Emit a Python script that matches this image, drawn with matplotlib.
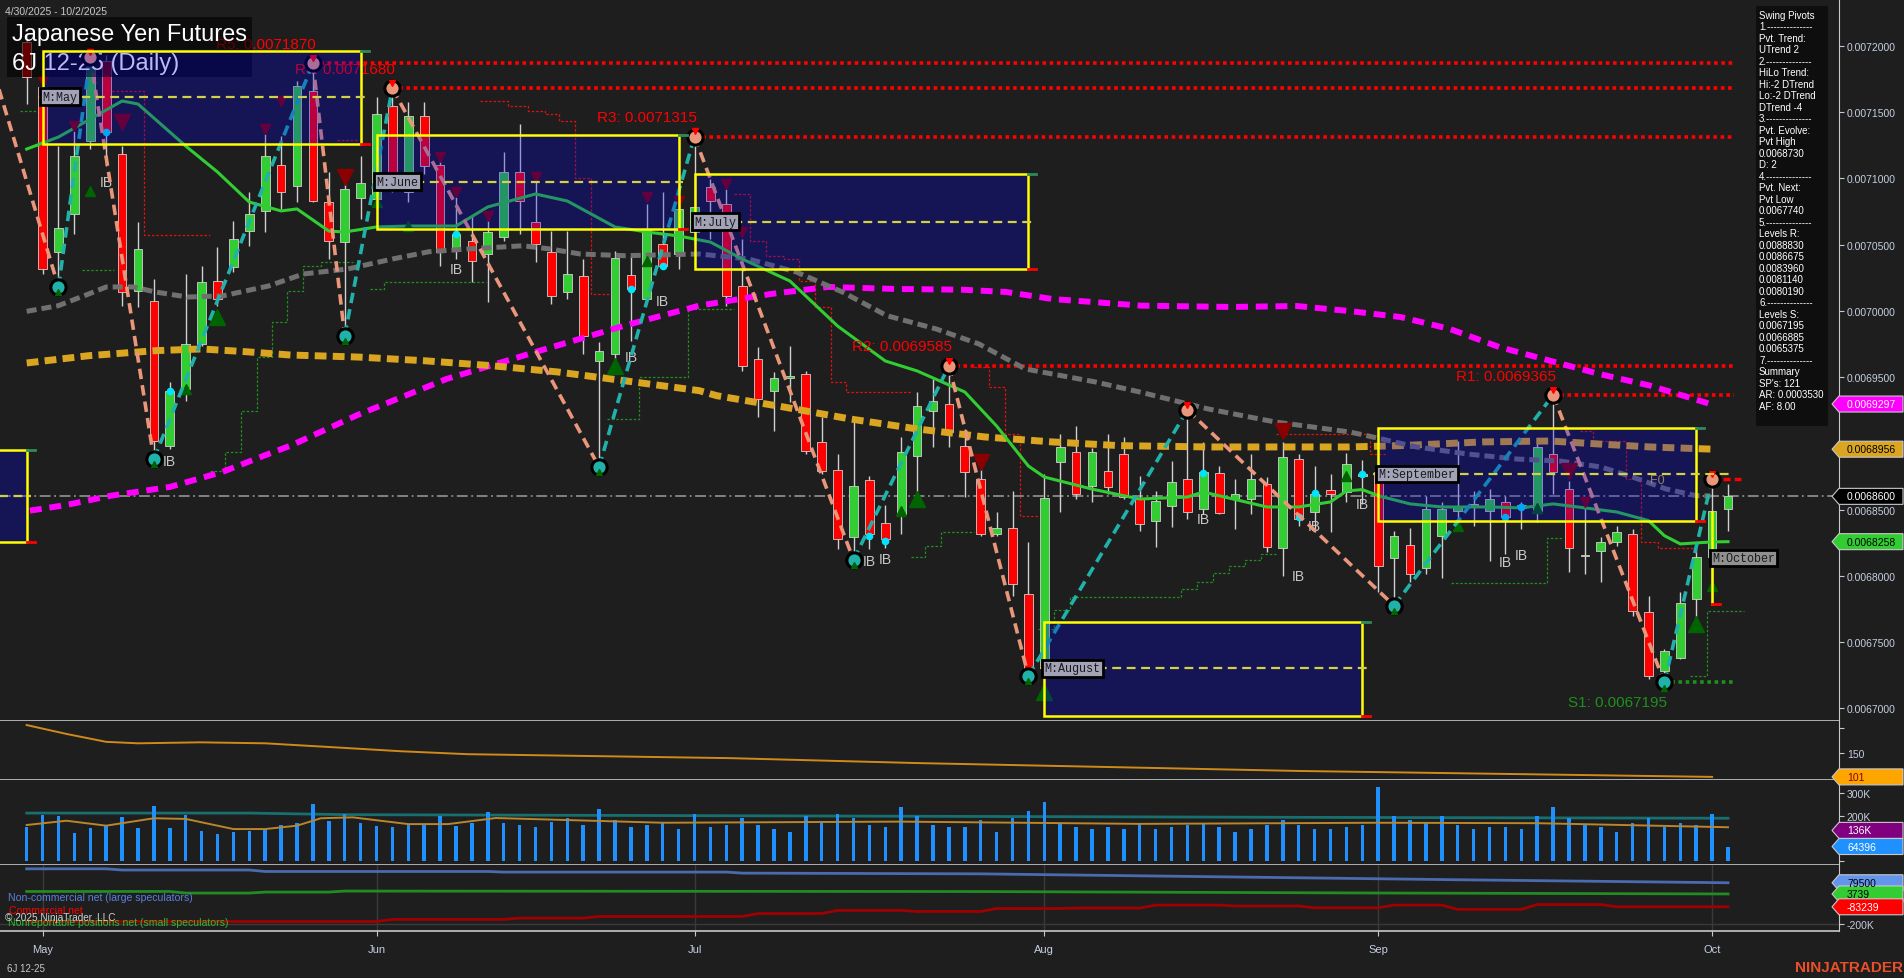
import numpy as np
import pandas as pd
import matplotlib
matplotlib.use("Agg")
import matplotlib.pyplot as plt
from matplotlib.patches import Rectangle, Polygon
from matplotlib import font_manager

W, H = 1904, 979
BG = "#1e1e1e"
AXC = "#c8c8c8"
TXT = "#c5cfe0"
TEAL = "#20b2aa"
SALMON = "#e9967a"

installed = {f.name for f in font_manager.fontManager.ttflist}
NARROW = "Liberation Sans Narrow" if "Liberation Sans Narrow" in installed else "Liberation Sans"
plt.rcParams["font.family"] = ["Liberation Sans", "DejaVu Sans"]

# ---------------- data ----------------
holidays = pd.to_datetime(["2025-05-26", "2025-06-19", "2025-07-04", "2025-09-01"])
dates = pd.bdate_range("2025-04-30", "2025-10-02")
dates = dates[~dates.isin(holidays)]
idx = np.arange(len(dates))

opens = [0.0072030, 0.0071690, 0.0070445, 0.0070732, 0.0071283, 0.0071887, 0.0071185, 0.0070150, 0.0070075, 0.0068980,
         0.0069411, 0.0069750, 0.0070226, 0.0070332, 0.0070603, 0.0070754, 0.0071102, 0.0070943, 0.0071660, 0.0070822,
         0.0070520, 0.0070852, 0.0070845, 0.0071547, 0.0070898, 0.0071472, 0.0071102, 0.0070452, 0.0070528, 0.0070430,
         0.0070558, 0.0071049, 0.0070671, 0.0070445, 0.0070143, 0.0070264, 0.0069622, 0.0069675, 0.0070271, 0.0070090,
         0.0070505, 0.0070430, 0.0070596, 0.0070936, 0.0070807, 0.0070188, 0.0069637, 0.0069396, 0.0069494, 0.0069524,
         0.0069011, 0.0068799, 0.0068293, 0.0068724, 0.0068399, 0.0068467, 0.0068905, 0.0069245, 0.0069298, 0.0068980,
         0.0068731, 0.0068316, 0.0068361, 0.0067863, 0.0067320, 0.0068860, 0.0068935, 0.0068678, 0.0068792, 0.0068920,
         0.0068580, 0.0068414, 0.0068527, 0.0068731, 0.0068505, 0.0068777, 0.0068580, 0.0068580, 0.0068693, 0.0068210,
         0.0068882, 0.0068482, 0.0068648, 0.0068633, 0.0068754, 0.0068784, 0.0068135, 0.0068233, 0.0068059, 0.0068301,
         0.0068490, 0.0068520, 0.0068490, 0.0068558, 0.0068512, 0.0068490, 0.0068920, 0.0068656, 0.0068150, 0.0068188,
         0.0068256, 0.0068316, 0.0067727, 0.0067282, 0.0067380, 0.0067825, 0.0068142, 0.0068505]
highs = [0.0072091, 0.0071751, 0.0071245, 0.0071358, 0.0071917, 0.0071932, 0.0071245, 0.0070671, 0.0070241, 0.0069464,
         0.0070279, 0.0070339, 0.0070483, 0.0070679, 0.0070898, 0.0071336, 0.0071321, 0.0071736, 0.0071870, 0.0071049,
         0.0070973, 0.0071170, 0.0071615, 0.0071680, 0.0071577, 0.0071577, 0.0071185, 0.0070860, 0.0070717, 0.0070747,
         0.0071200, 0.0071411, 0.0071019, 0.0070603, 0.0070603, 0.0070392, 0.0069765, 0.0070453, 0.0070415, 0.0070807,
         0.0070898, 0.0070845, 0.0071315, 0.0070996, 0.0070920, 0.0070543, 0.0069728, 0.0069539, 0.0069735, 0.0069546,
         0.0069199, 0.0068920, 0.0069169, 0.0068754, 0.0068535, 0.0069048, 0.0069388, 0.0069486, 0.0069585, 0.0069109,
         0.0068829, 0.0068482, 0.0068641, 0.0068256, 0.0068769, 0.0069071, 0.0069131, 0.0068965, 0.0069071, 0.0069048,
         0.0068754, 0.0068641, 0.0068867, 0.0069252, 0.0069011, 0.0068829, 0.0068731, 0.0068920, 0.0068746, 0.0069011,
         0.0068920, 0.0068829, 0.0068769, 0.0068928, 0.0068875, 0.0068882, 0.0068339, 0.0068361, 0.0068603, 0.0068558,
         0.0069018, 0.0068641, 0.0068656, 0.0068603, 0.0068558, 0.0069011, 0.0069365, 0.0068716, 0.0068558, 0.0068293,
         0.0068376, 0.0068354, 0.0067848, 0.0067448, 0.0067878, 0.0068203, 0.0068730, 0.0068693]
lows = [0.0071562, 0.0070279, 0.0070181, 0.0070581, 0.0071222, 0.0071094, 0.0070037, 0.0070030, 0.0068882, 0.0068958,
        0.0069320, 0.0069735, 0.0070037, 0.0070294, 0.0070490, 0.0070596, 0.0070770, 0.0070822, 0.0070822, 0.0070392,
        0.0069813, 0.0070694, 0.0070792, 0.0070898, 0.0070822, 0.0071034, 0.0070339, 0.0070392, 0.0070218, 0.0070067,
        0.0070527, 0.0070581, 0.0070369, 0.0070052, 0.0070090, 0.0069675, 0.0068822, 0.0069622, 0.0069773, 0.0070090,
        0.0070317, 0.0070317, 0.0070505, 0.0070543, 0.0070037, 0.0069546, 0.0069199, 0.0069094, 0.0069313, 0.0068920,
        0.0068769, 0.0068203, 0.0068120, 0.0068203, 0.0068210, 0.0068316, 0.0068633, 0.0068973, 0.0068973, 0.0068595,
        0.0068301, 0.0068301, 0.0067848, 0.0067244, 0.0067297, 0.0068482, 0.0068580, 0.0068558, 0.0068618, 0.0068580,
        0.0068339, 0.0068218, 0.0068369, 0.0068429, 0.0068467, 0.0068467, 0.0068354, 0.0068467, 0.0068180, 0.0067999,
        0.0068376, 0.0068331, 0.0068331, 0.0068558, 0.0068543, 0.0067878, 0.0067775, 0.0067954, 0.0068014, 0.0067984,
        0.0068414, 0.0068376, 0.0068112, 0.0068165, 0.0068354, 0.0068407, 0.0068618, 0.0068029, 0.0068014, 0.0067954,
        0.0068226, 0.0067697, 0.0067221, 0.0067195, 0.0067372, 0.0067690, 0.0067788, 0.0068339]
closes = [0.0071766, 0.0070317, 0.0070626, 0.0071170, 0.0071841, 0.0071351, 0.0070143, 0.0070467, 0.0069018, 0.0069396,
          0.0069750, 0.0070218, 0.0070090, 0.0070543, 0.0070732, 0.0071170, 0.0070898, 0.0071698, 0.0070830, 0.0070528,
          0.0070920, 0.0070966, 0.0071487, 0.0070936, 0.0071472, 0.0071094, 0.0070445, 0.0070581, 0.0070377, 0.0070596,
          0.0071049, 0.0070830, 0.0070505, 0.0070113, 0.0070279, 0.0069811, 0.0069697, 0.0070400, 0.0070165, 0.0070619,
          0.0070339, 0.0070770, 0.0070785, 0.0070830, 0.0070113, 0.0069584, 0.0069335, 0.0069494, 0.0069509, 0.0068943,
          0.0068792, 0.0068278, 0.0068678, 0.0068316, 0.0068278, 0.0068935, 0.0069282, 0.0069320, 0.0069086, 0.0068784,
          0.0068316, 0.0068361, 0.0067939, 0.0067297, 0.0068588, 0.0068973, 0.0068618, 0.0068935, 0.0068671, 0.0068595,
          0.0068392, 0.0068565, 0.0068709, 0.0068482, 0.0068784, 0.0068475, 0.0068618, 0.0068731, 0.0068218, 0.0068897,
          0.0068429, 0.0068618, 0.0068618, 0.0068844, 0.0068769, 0.0068074, 0.0068301, 0.0068014, 0.0068505, 0.0068505,
          0.0068520, 0.0068543, 0.0068580, 0.0068444, 0.0068535, 0.0068973, 0.0068784, 0.0068210, 0.0068158, 0.0068256,
          0.0068331, 0.0067735, 0.0067244, 0.0067433, 0.0067795, 0.0068142, 0.0068490, 0.0068600]

# moving averages (bar index, value)
fast_idx = [0, 2, 6, 7, 10, 12, 14, 16, 17, 19, 20, 22, 24, 27, 29, 32, 34, 37, 39, 41, 43, 45, 48, 51, 54, 56, 59,
            61, 63, 64, 67, 70, 73, 74, 78, 80, 82, 83, 84, 85, 87, 89, 92, 94, 96, 98, 100, 102, 103, 104, 106, 107]
fast_val = [0.0071222, 0.0071313, 0.0071585, 0.0071562, 0.0071245, 0.0071049, 0.0070822, 0.0070755, 0.0070770,
            0.0070603, 0.0070596, 0.0070634, 0.0070641, 0.0070641, 0.0070785, 0.0070883, 0.0070830, 0.0070634,
            0.0070596, 0.0070566, 0.0070520, 0.0070392, 0.0070226, 0.0069886, 0.0069622, 0.0069547, 0.0069388,
            0.0069131, 0.0068829, 0.0068746, 0.0068655, 0.0068580, 0.0068595, 0.0068633, 0.0068520, 0.0068520,
            0.0068558, 0.0068641, 0.0068651, 0.0068605, 0.0068543, 0.0068520, 0.0068520, 0.0068513, 0.0068543,
            0.0068513, 0.0068482, 0.0068417, 0.0068303, 0.0068241, 0.0068256, 0.0068258]
gray_idx = [0, 2, 3.9, 5, 6.7, 8.1, 10.1, 12.3, 15.2, 17.4, 20.2, 23, 25.3, 27.8, 31.2, 32.9, 34.8, 37.6, 42.3, 45.4,
            48.4, 51.3, 54.1, 57.2, 59.9, 62.8, 64.5, 67.2, 70, 74.3, 78.5, 83.2, 84.3, 87.4, 90.6, 93.7, 96.4, 99,
            101, 103.1, 105, 105.9]
gray_val = [0.0069997, 0.0070040, 0.0070128, 0.0070181, 0.0070181, 0.0070143, 0.0070105, 0.0070113, 0.0070188,
            0.0070279, 0.0070317, 0.0070392, 0.0070447, 0.0070468, 0.0070492, 0.0070468, 0.0070430, 0.0070417,
            0.0070430, 0.0070392, 0.0070294, 0.0070143, 0.0069964, 0.0069864, 0.0069750, 0.0069562, 0.0069524,
            0.0069464, 0.0069388, 0.0069260, 0.0069162, 0.0069086, 0.0069058, 0.0068973, 0.0068920, 0.0068882,
            0.0068867, 0.0068822, 0.0068746, 0.0068656, 0.0068605, 0.0068603]
gold_idx = [0, 3.9, 8.1, 11, 13.8, 16.6, 20.8, 25, 29.2, 33.4, 37.6, 42.3, 43.4, 47.6, 51.8, 56, 60.3, 64.5, 68.7,
            74.3, 83.2, 86.4, 91.6, 95.8, 98.9, 102.1, 106.1]
gold_val = [0.0069607, 0.0069662, 0.0069700, 0.0069713, 0.0069692, 0.0069667, 0.0069652, 0.0069624, 0.0069587,
            0.0069539, 0.0069473, 0.0069398, 0.0069360, 0.0069275, 0.0069184, 0.0069109, 0.0069048, 0.0069011,
            0.0068983, 0.0068973, 0.0068973, 0.0068983, 0.0069011, 0.0069018, 0.0068995, 0.0068973, 0.0068956]
mag_idx = [0.2, 2.5, 5.3, 9, 12.3, 15.2, 16.6, 20.8, 26.4, 32, 37.6, 42.3, 46.8, 50.4, 54.6, 58.9, 61.6, 64.5, 70.1,
           75.7, 79.9, 83.2, 86.4, 89.5, 92.6, 95.8, 98.9, 102.1, 105.9]
mag_val = [0.0068492, 0.0068535, 0.0068605, 0.0068671, 0.0068784, 0.0068920, 0.0068983, 0.0069214, 0.0069486,
           0.0069690, 0.0069889, 0.0070040, 0.0070128, 0.0070181, 0.0070166, 0.0070160, 0.0070143, 0.0070090,
           0.0070040, 0.0070030, 0.0070037, 0.0069999, 0.0069954, 0.0069864, 0.0069728, 0.0069624, 0.0069524,
           0.0069436, 0.0069297]

# swing pivots (first one sits before the window)
pivot_idx = [-2, 2, 4, 8, 18, 20, 23, 36, 42, 52, 58, 63, 73, 86, 96, 103, 106]
pivot_px = [0.0071776, 0.0070181, 0.0071917, 0.0068882, 0.0071870, 0.0069813, 0.0071680, 0.0068822, 0.0071315,
            0.0068120, 0.0069585, 0.0067244, 0.0069252, 0.0067775, 0.0069365, 0.0067195, 0.0068730]

level_names = ["R5", "R4", "R3", "R2", "R1", "S1"]
level_bars = [18, 23, 42, 58, 96, 103]
level_vals = [0.0071870, 0.0071680, 0.0071315, 0.0069585, 0.0069365, 0.0067195]

# monthly range boxes
box_names = ["", "M:May", "M:June", "M:July", "M:August", "M:September"]
box_first = [-22, 1, 22, 42, 64, 85]
box_last = [0, 21, 41, 63, 84, 105]
box_top = [0.0068953, 0.0071965, 0.0071328, 0.0071034, 0.0067654, 0.0069116]
box_bot = [0.0068258, 0.0071260, 0.0070619, 0.0070317, 0.0066944, 0.0068417]
box_mid = [0.0068605, 0.0071617, 0.0070976, 0.0070674, 0.0067302, 0.0068769]
oct_bar, oct_top, oct_bot = 106, 0.0068482, 0.0067788

# stop trails (step lines)
red_trails = [
    ([4.8, 7.4, 11.5], [0.0071660, 0.0070573, 0.0070573]),
    ([19.5, 20.9], [0.0071290, 0.0071290]),
    ([28.5, 30.3, 31.5, 32.6, 33.5, 34.5, 35.5, 36.6],
     [0.0071585, 0.0071547, 0.0071509, 0.0071487, 0.0071434, 0.0071004, 0.0070128, 0.0070128]),
    ([44.5, 45.5, 46.5, 47.6, 48.6, 49.6, 50.6, 51.5, 55.7],
     [0.0070883, 0.0070528, 0.0070415, 0.0070392, 0.0070226, 0.0070030, 0.0069464, 0.0069388, 0.0069388]),
    ([59.6, 60.5, 61.5, 62.5, 63.6], [0.0069577, 0.0069426, 0.0069071, 0.0068452, 0.0068452]),
    ([78.6, 84.5, 85.5], [0.0069071, 0.0068920, 0.0068920]),
    ([97.7, 98.5, 100.6, 101.5, 102.6, 105], [0.0069096, 0.0069020, 0.0068731, 0.0068256, 0.0068210, 0.0068210]),
]
green_trails = [
    ([-0.4, 0.6], [0.0071509, 0.0071509]),
    ([3.5, 5.5], [0.0070309, 0.0070309]),
    ([11.5, 12.5, 13.5, 14.5, 15.4, 16.4, 17.4, 18.5, 20.5],
     [0.0068792, 0.0068935, 0.0069245, 0.0069652, 0.0069917, 0.0070150, 0.0070339, 0.0070369, 0.0070369]),
    ([21.6, 22.5, 28.9], [0.0070165, 0.0070218, 0.0070218]),
    ([36.5, 38.5, 41.6, 44.5], [0.0069184, 0.0069501, 0.0070015, 0.0070015]),
    ([55.6, 56.5, 57.5, 59.6], [0.0068142, 0.0068226, 0.0068331, 0.0068331]),
    ([63.6, 64.6, 65.6, 72.6, 73.6, 74.6, 75.6, 76.6, 77.6, 78.6],
     [0.0067599, 0.0067742, 0.0067840, 0.0067901, 0.0067954, 0.0068022, 0.0068074, 0.0068120, 0.0068165, 0.0068165]),
    ([89.6, 95.6, 96.6], [0.0067948, 0.0068286, 0.0068286]),
    ([104.6, 105.7, 108], [0.0067246, 0.0067735, 0.0067735]),
]

dn_idx = [1, 3, 6, 15, 16, 20, 26, 27, 29, 32, 39, 41, 44, 45, 60, 79, 97, 98]
dn_px = [0.0071736, 0.0071396, 0.0071426, 0.0071373, 0.0071585, 0.0071011, 0.0071162, 0.0070898, 0.0070717,
         0.0071011, 0.0070860, 0.0070830, 0.0070958, 0.0070596, 0.0068860, 0.0069094, 0.0068794, 0.0068558]
dn_big = [6, 20, 60, 79, 97]
up_idx = [4, 10, 12, 22, 24, 37, 39, 55, 56, 64, 83, 90, 95, 105, 106]
up_px = [0.0070905, 0.0069411, 0.0069954, 0.0070822, 0.0070641, 0.0069584, 0.0070377, 0.0068492, 0.0068580,
         0.0067123, 0.0068754, 0.0068379, 0.0068512, 0.0067637, 0.0067924]
up_big = [12, 37, 56, 64, 105]
dot_idx = [5, 9, 27, 38, 40, 53, 54, 74, 80, 81, 84, 93, 94]
dot_px = [0.0071351, 0.0069396, 0.0070581, 0.0070165, 0.0070339, 0.0068301, 0.0068263, 0.0068777, 0.0068444,
          0.0068626, 0.0068769, 0.0068444, 0.0068520]
ib_idx = [5, 9, 27, 38, 40, 53, 54, 74, 80, 81, 84, 93, 94]
ib_px = [0.0070973, 0.0068867, 0.0070317, 0.0069652, 0.0070075, 0.0068112, 0.0068127, 0.0068429, 0.0067999,
         0.0068376, 0.0068543, 0.0068105, 0.0068158]

last_price = 0.0068600

info_lines = ["Swing Pivots", "1.--------------", "Pvt. Trend:", "UTrend 2", "2.--------------", "HiLo Trend:",
              "Hi:-2 DTrend", "Lo:-2 DTrend", "DTrend -4", "3.--------------", "Pvt. Evolve:", "Pvt High",
              "0.0068730", "D: 2", "4.--------------", "Pvt. Next:", "Pvt Low", "0.0067740", "5.--------------",
              "Levels R:", "0.0088830", "0.0086675", "0.0083960", "0.0081140", "0.0080190", "6.--------------",
              "Levels S:", "0.0067195", "0.0066885", "0.0065375", "7.--------------", "Summary", "SP's: 121",
              "AR: 0.0003530", "AF: 8.00"]

# lower panels
p2_idx = [0, 2.5, 5, 7, 10.9, 15, 19.3, 23.5, 27.7, 44.2, 56, 68, 80, 93, 106]
p2_val = [206, 188, 172, 169, 171, 169, 161, 153, 147, 139, 129, 121, 113, 107, 101]

vol_k = [153, 204, 201, 126, 148, 157, 196, 148, 243, 148,
         204, 135, 122, 130, 135, 143, 161, 170, 252, 178,
         209, 170, 157, 152, 165, 161, 200, 157, 170, 217,
         170, 160, 150, 175, 190, 160, 230, 180, 150, 160,
         170, 140, 210, 150, 160, 190, 160, 140, 130, 200,
         170, 210, 190, 160, 150, 240, 200, 160, 150, 150,
         180, 130, 190, 220, 260, 170, 150, 140, 150, 140,
         170, 140, 150, 160, 170, 150, 130, 140, 160, 180,
         160, 140, 140, 150, 160, 330, 200, 180, 170, 200,
         160, 140, 150, 150, 140, 200, 240, 190, 160, 150,
         130, 170, 190, 150, 170, 160, 210, 64.396]
oi_idx = [0, 14, 20, 30, 40, 60, 80, 107]
oi_k = [213, 213, 206, 204, 202, 198, 194, 190]
avg_idx = [0, 2.5, 5, 8, 10, 13, 15, 17, 18.5, 20.5, 24, 26.5, 29.5, 40, 55, 70, 85, 95, 107]
avg_k = [160, 179, 157, 190, 187, 142, 142, 157, 190, 194, 164, 164, 191, 170, 175, 165, 170, 168, 150]

cot_blue_idx = [0, 5, 6, 14, 15, 29, 30, 44, 45, 60, 75, 90, 107]
cot_blue_k = [174, 174, 166, 166, 156, 156, 152, 152, 145, 140, 120, 100, 79.5]
cot_green_idx = [0, 9, 10, 14, 15, 19, 20, 60, 85, 107]
cot_green_k = [20.5, 20.5, 9.7, 9.7, 16.4, 16.4, 23.2, 20, 10, 3.7]
cot_red_idx = [0, 22, 23, 30, 31, 35, 36, 45, 46, 50, 51, 55, 56, 60, 61, 65, 66, 70, 71, 75, 76, 80, 81, 85,
               86, 89, 90, 94, 95, 99, 100, 107]
cot_red_k = [-183, -183, -169, -169, -160, -160, -149, -149, -129, -129, -108, -108, -115, -115, -95, -95, -92,
             -92, -72, -72, -78, -78, -90, -90, -72, -72, -101, -101, -68, -68, -83.2, -83.2]

# ---------------- figure ----------------
fig = plt.figure(figsize=(W / 100, H / 100), dpi=100, facecolor=BG)
PLOT_R = 1839


def panel(top_px, bot_px):
    a = fig.add_axes([0, 1 - bot_px / H, PLOT_R / W, (bot_px - top_px) / H])
    a.set_facecolor(BG)
    a.set_xlim(-1.679, 113.98)
    for s in ("top", "left"):
        a.spines[s].set_visible(False)
    a.spines["right"].set_color(AXC)
    a.spines["bottom"].set_color(AXC)
    a.spines["bottom"].set_linewidth(1.2)
    a.yaxis.tick_right()
    a.tick_params(axis="y", colors=AXC, labelcolor=TXT, labelsize=7.5, length=3.6, pad=2)
    a.tick_params(axis="x", bottom=False, labelbottom=False)
    return a


ax = panel(0, 722)
ax2 = panel(722, 781)
ax3 = panel(781, 866)
ax4 = panel(866, 932)


def axf(x, y):
    return x / PLOT_R, 1 - y / 722


# main panel
ax.set_ylim(0.0066904, 0.0072355)
yt = np.arange(0.00670, 0.007201, 0.00005)
ax.set_yticks(yt)
# the 0.0069000 label sits under the gold price flag
ax.set_yticklabels(["" if abs(v - 0.0069) < 1e-9 else f"{v:.7f}" for v in yt])

for xs, ys in red_trails:
    ax.step(xs, ys, where="post", color="#e01010", lw=0.9, ls=(0, (2, 1.5)), zorder=2)
for xs, ys in green_trails:
    ax.step(xs, ys, where="post", color="#1f8f1f", lw=0.9, ls=(0, (2, 1.5)), zorder=2)

ax.axhline(last_price, color="#8a8a8a", lw=1.3, ls=(0, (6, 2, 1, 2)), zorder=2)

for name, bi, val in zip(level_names, level_bars, level_vals):
    col = "#ff0000" if name.startswith("R") else "#1f8f1f"
    ax.plot([bi, idx[-1] + 0.4], [val, val], color=col, lw=2.6, dashes=(1, 1), zorder=2.5)
    ax.annotate(f"{name}: {val:.7f}", (bi, val), xytext=(2, 14 if name.startswith("R") else -14),
                textcoords="offset points", ha="right", va="center", color=col, fontsize=11,
                fontfamily=NARROW, zorder=6)

o, hh, ll, c = map(np.array, (opens, highs, lows, closes))
bull = c >= o
ax.vlines(idx, ll, hh, color="#d0d0d0", lw=1, zorder=4)
ax.bar(idx, np.maximum(np.abs(c - o), 8e-7), bottom=np.minimum(o, c), width=0.55,
       color=np.where(bull, "#32cd32", "#ff0000"), edgecolor="#d0d0d0", linewidth=0.6, zorder=4)

ax.plot(mag_idx, mag_val, color="#ff00ff", lw=4.3, dashes=(2, 1.3), zorder=4.5)
ax.plot(gold_idx, gold_val, color="#daa520", lw=5, dashes=(1.7, 0.9), zorder=4.6)
ax.plot(gray_idx, gray_val, color="#707070", lw=3.6, dashes=(2, 1), zorder=4.7)
ax.plot(fast_idx, fast_val, color="#32cd32", lw=2.2, zorder=4.8)

for k in range(len(pivot_idx) - 1):
    col = TEAL if pivot_px[k + 1] > pivot_px[k] else SALMON
    ax.plot(pivot_idx[k:k + 2], pivot_px[k:k + 2], color=col, lw=2.6, dashes=(2.9, 1.7), zorder=6)
for k in range(1, len(pivot_idx)):
    hi = pivot_px[k] > pivot_px[k - 1]
    ax.plot(pivot_idx[k], pivot_px[k], "o", ms=11, mfc=SALMON if hi else TEAL, mec="black", mew=2.2, zorder=7)
    ax.plot(pivot_idx[k], pivot_px[k] + (4e-6 if hi else -4e-6), "v" if hi else "^", ms=4,
            color="#ff0000" if hi else "#006400", zorder=7.5)

for i, p in zip(dn_idx, dn_px):
    ax.plot(i, p, "v", ms=12 if i in dn_big else 7, color="#8b0000", zorder=5)
for i, p in zip(up_idx, up_px):
    ax.plot(i, p, "^", ms=12 if i in up_big else 7, color="#006400", zorder=5)
ax.plot(dot_idx, dot_px, "o", ms=4.5, color="#00e5ff", ls="none", zorder=5.5)
for i, p in zip(ib_idx, ib_px):
    ax.text(i, p, "IB", color="#c8c8c8", fontsize=10, fontfamily=NARROW, ha="center", va="center", zorder=5.5)

ax.plot([106, 107.8], [0.0068730, 0.0068730], color="#ff0000", lw=2.5, dashes=(2, 1.2), zorder=6)
ax.text(102.55, 0.0068724, "F0", color="#c8b432", fontsize=9, ha="center", va="center", zorder=6)

# title block (over the price marks, under the May box)
ax.add_patch(Rectangle(axf(7, 78), 245 / PLOT_R, 60 / 722, transform=ax.transAxes,
                       facecolor="black", alpha=0.6, zorder=6.5))
ax.text(*axf(12, 35), "Japanese Yen Futures", transform=ax.transAxes, color="white", fontsize=17,
        va="center", zorder=6.6)
ax.text(*axf(12, 64), "6J 12-25 (Daily)", transform=ax.transAxes, color="white", fontsize=17,
        va="center", zorder=6.6)

# monthly boxes
for k, (nm, f0, l0, tp, bt, md) in enumerate(zip(box_names, box_first, box_last, box_top, box_bot, box_mid)):
    ax.add_patch(Rectangle((f0, bt), l0 - f0, tp - bt, facecolor=(0, 0, 0.92, 0.27), edgecolor="yellow",
                           lw=1.8, zorder=8))
    end = idx[-1] + 0.2 if k == len(box_names) - 1 else l0 + 0.3
    ax.plot([f0 - 0.3, end], [md, md], color="#d2d246", lw=1.6, dashes=(4, 2.5), zorder=8.5)
    ax.plot([l0, l0 + 0.5], [tp, tp], color="#2e8b57", lw=2, zorder=8.5)
    ax.plot([l0, l0 + 0.5], [bt, bt], color="#ff0000", lw=2, zorder=8.5)
    if nm:
        ax.text(f0, md, nm, ha="left", va="center", fontfamily="Liberation Mono", fontsize=8.5, color="#1a1a1a",
                bbox=dict(boxstyle="square,pad=0.2", fc="#a3a3b8", ec="black", lw=2), zorder=11)
ax.plot([oct_bar, oct_bar], [oct_bot, oct_top], color="yellow", lw=1.8, zorder=8)
ax.plot([oct_bar, oct_bar + 0.5], [oct_bot, oct_bot], color="#ff0000", lw=2, zorder=8.5)
ax.text(oct_bar, (oct_top + oct_bot) / 2, "M:October", ha="left", va="center", fontfamily="Liberation Mono",
        fontsize=8.5, color="#1a1a1a", bbox=dict(boxstyle="square,pad=0.2", fc="#909090", ec="black", lw=2),
        zorder=11)

# swing pivots info panel
ax.add_patch(Rectangle(axf(1756, 427), 72 / PLOT_R, 420 / 722, transform=ax.transAxes,
                       facecolor="#0e0e0e", zorder=12))
for j, s in enumerate(info_lines):
    ax.text(*axf(1759, 15.7 + 11.5 * j), s, transform=ax.transAxes, color="white", fontsize=7,
            va="center", zorder=13)

# panel 2
ax2.set_ylim(94.7, 214.2)
ax2.set_yticks([150, 200])
ax2.set_yticklabels(["150", ""])
ax2.plot(p2_idx, p2_val, color="#d08a1a", lw=1.4)

# panel 3: volume
ax3.set_ylim(-17800, 360000)
ax3.set_yticks([0, 200000, 300000])
ax3.set_yticklabels(["", "200K", "300K"])
ax3.bar(idx, np.array(vol_k) * 1000, width=0.22, color="#1e90ff", zorder=3)
ax3.plot(oi_idx, np.array(oi_k) * 1000, color="#17706f", lw=2, zorder=2)
ax3.plot(avg_idx, np.array(avg_k) * 1000, color="#b8862b", lw=1.4, zorder=4)

# panel 4: COT
month_first = [i for i in range(1, len(dates)) if dates[i].month != dates[i - 1].month]
month_lbls = [dates[i].strftime("%b") for i in month_first]
ax4.set_ylim(-247500, 200000)
ax4.set_yticks([-200000])
ax4.set_yticklabels(["-200K"])
ax4.axhline(-200000, color="#3a3a3a", lw=1, zorder=1)
for m in month_first:
    ax4.axvline(m, color="#3a3a3a", lw=1, zorder=1)
ax4.plot(cot_blue_idx, np.array(cot_blue_k) * 1000, color="#4a6bb0", lw=2, zorder=3)
ax4.plot(cot_green_idx, np.array(cot_green_k) * 1000, color="#228b22", lw=2, zorder=3)
ax4.plot(cot_red_idx, np.array(cot_red_k) * 1000, color="#a00000", lw=2, zorder=3)
ax4.set_xticks(month_first)
ax4.set_xticklabels(month_lbls)
ax4.tick_params(axis="x", bottom=True, labelbottom=True, colors=AXC, labelcolor=TXT, labelsize=8,
                length=3.6, pad=6)

fig.text(8 / W, 1 - 898 / H, "Non-commercial net (large speculators)", color="#5b7fe0", fontsize=7.6, va="center")
fig.text(9 / W, 1 - 911 / H, "Commercial net", color="#ff0000", fontsize=7.6, va="center")
fig.text(8 / W, 1 - 923 / H, "Nonreportable positions net (small speculators)", color="#2eb82e", fontsize=7.6,
         va="center")
fig.text(5 / W, 1 - 918 / H, "\u00a9 2025 NinjaTrader, LLC", color="#d0d0d0", fontsize=7.2, va="center")

fig.text(5 / W, 1 - 11.7 / H, "4/30/2025 - 10/2/2025", color="#c8c8c8", fontsize=7.5, va="center")
fig.text(7 / W, 1 - 969 / H, "6J 12-25", color="#c8c8c8", fontsize=7, va="center")
fig.text(1903 / W, 1 - 968 / H, "NINJATRADER", color="#e8502a", fontsize=11, fontweight="bold",
         ha="right", va="center")


# price flags on the right axis
def flag(a, val, text, fc, tc):
    yd = a.transData.transform((0, val))[1]
    pts = [(1832, yd), (1839, yd + 8), (1903, yd + 8), (1903, yd - 8), (1839, yd - 8)]
    fig.add_artist(Polygon([(x / W, y / H) for x, y in pts], closed=True, transform=fig.transFigure,
                           facecolor=fc, edgecolor="#c8c8c8", lw=0.8, zorder=20))
    fig.text(1847 / W, yd / H, text, color=tc, fontsize=7.5, va="center", ha="left", zorder=21)


flag(ax, 0.0069297, "0.0069297", "#ff00ff", "white")
flag(ax, 0.0068956, "0.0068956", "#daa520", "black")
flag(ax, 0.0068600, "0.0068600", "black", "white")
flag(ax, 0.0068258, "0.0068258", "#32cd32", "black")
flag(ax2, 101, "101", "#ffa500", "#8b0000")
flag(ax3, 136000, "136K", "#800080", "white")
flag(ax3, 64396, "64396", "#1e90ff", "white")
flag(ax4, 79500, "79500", "#6495ed", "black")
flag(ax4, 3739, "3739", "#32cd32", "black")
flag(ax4, -83239, "-83239", "#ff0000", "white")

fig.savefig("out.png", dpi=100, facecolor=BG)
